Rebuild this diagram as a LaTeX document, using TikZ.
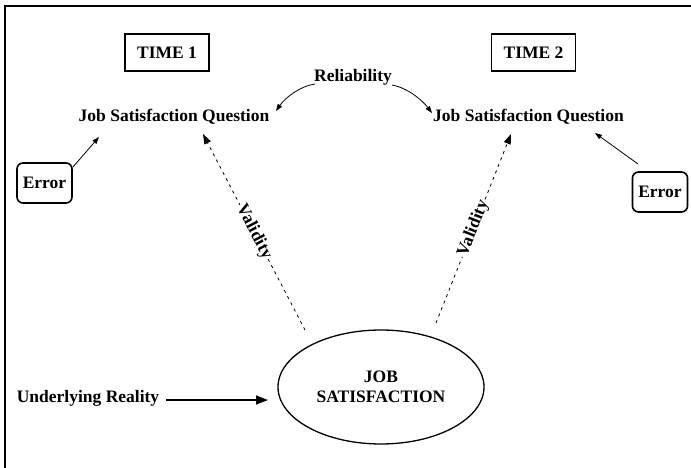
\documentclass[tikz,border=0pt]{standalone}
\usepackage{fontspec}
\setmainfont{Liberation Serif}
\usetikzlibrary{arrows.meta,shapes.geometric}
\begin{document}
\begin{tikzpicture}[x=1pt,y=-1pt,
  txt/.style={font=\fontsize{17.5}{20}\selectfont\bfseries, inner sep=2pt},
  timebox/.style={txt, draw, line width=1.6pt, minimum width=84pt, minimum height=37pt},
  errbox/.style={txt, draw, line width=1.6pt, rounded corners=6pt, minimum width=55pt, minimum height=40pt},
  thinarrow/.style={line width=0.8pt, -{Triangle[length=7pt,width=5pt]}},
  validarrow/.style={dash pattern=on 3pt off 4pt, line width=0.8pt, -{Triangle[length=10pt,width=7pt]}},
  vlabel/.style={txt, sloped, fill=white, inner sep=1pt},
]
\useasboundingbox (0,0) rectangle (691,468);
\draw[line width=1.5pt] (691,6) -- (5,6) -- (5,468);

\node[timebox] (t1) at (167,52.5) {TIME 1};
\node[timebox] (t2) at (533.5,52.5) {TIME 2};
\node[txt] (rel) at (353,77) {Reliability};
\node[txt] (q1) at (174,117) {Job Satisfaction Question};
\node[txt] (q2) at (528.5,117) {Job Satisfaction Question};
\node[errbox] (e1) at (44.5,183) {Error};
\node[errbox] (e2) at (660,192) {Error};
\node[txt, draw, ellipse, line width=1.3pt, minimum width=206pt, minimum height=114pt, inner sep=0pt, align=center] (js) at (381,387) {JOB\\SATISFACTION};
\node[txt] (ur) at (88,398) {Underlying Reality};

% reliability arrows
\coordinate (r1s) at (315,84);
\coordinate (r1e) at (276,111);
\coordinate (r2s) at (392,85);
\coordinate (r2e) at (432,113);
\draw[thinarrow] (r1s) .. controls (300,86) and (285,98) .. (r1e);
\draw[thinarrow] (r2s) .. controls (408,88) and (422,100) .. (r2e);

% error arrows
\coordinate (e1t) at (99,137);
\coordinate (e2s) at (638,164);
\coordinate (e2t) at (595,133);
\draw[thinarrow] ([yshift=-5pt]e1.north east) -- (e1t);
\draw[thinarrow] (e2s) -- (e2t);

% validity arrows
\coordinate (v1s) at (305,330);
\coordinate (v1e) at (203,134);
\coordinate (v2s) at (436,323);
\coordinate (v2e) at (511,134);
\draw[validarrow] (v1s) -- node[vlabel] {Validity} (v1e);
\draw[validarrow] (v2s) -- node[vlabel] {Validity} (v2e);

% underlying reality
\coordinate (urt) at (268,400);
\draw[line width=1.6pt, -{Triangle[length=12pt,width=9pt]}] ([xshift=5pt]ur.east |- urt) -- (urt);
\end{tikzpicture}
\end{document}
